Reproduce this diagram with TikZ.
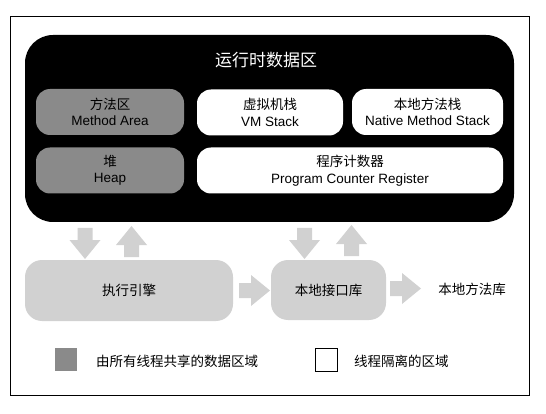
\documentclass[tikz,border=0pt]{standalone}
\usepackage{fontspec}
\setmainfont{Liberation Sans}
\newfontfamily\cjk{Noto Sans CJK SC}
\definecolor{sharedgray}{HTML}{8A8A8A}
\definecolor{lightgray2}{HTML}{D1D1D1}
\begin{document}
\begin{tikzpicture}[x=1pt,y=-1pt,
  every node/.style={inner sep=0pt, outer sep=0pt},
  txt/.style={font=\fontsize{13.5}{16.5}\selectfont, align=center, text=black},
  area/.style={txt, rounded corners=14pt, minimum height=46pt},
  sharedbox/.style={area, fill=sharedgray},
  threadbox/.style={area, fill=white},
  execbox/.style={txt, fill=lightgray2, rounded corners=17pt},
  fatarrow/.pic={\fill[lightgray2] (0,-7.5) -- (12,-7.5) -- (12,-15.5) -- (31,0) -- (12,15.5) -- (12,7.5) -- (0,7.5) -- cycle;}
]
\useasboundingbox (0,0) rectangle (546,414);
\fill[white] (0,0) rectangle (546,414);
% outer frame
\node[draw=black, line width=0.9pt, minimum width=519pt, minimum height=379pt] (frame) at (269.5,205.5) {};
% runtime data area
\node[fill=black, rounded corners=28pt, minimum width=489pt, minimum height=187pt] (rt) at (269.5,128.5) {};
\node[font=\fontsize{17}{20}\selectfont\cjk, text=white] (title) at (266,60) {运行时数据区};
\node[sharedbox, minimum width=148pt] (ma) at (110,112) {{\cjk 方法区}\\Method Area};
\node[threadbox, minimum width=146pt] (vm) at (270,112.5) {{\cjk 虚拟机栈}\\VM Stack};
\node[threadbox, minimum width=151pt] (ns) at (427.5,112) {{\cjk 本地方法栈}\\Native Method Stack};
\node[sharedbox, minimum width=148pt] (heap) at (110,170.5) {{\cjk 堆}\\Heap};
\node[threadbox, minimum width=306pt] (pc) at (350,170.5) {{\cjk 程序计数器}\\Program Counter Register};
% execution engine and native interface
\node[execbox, minimum width=208pt, minimum height=61pt] (engine) at (129,290.5) {\cjk 执行引擎};
\node[execbox, minimum width=115pt, minimum height=60pt] (nif) at (328.5,290) {\cjk 本地接口库};
\node[txt] (nlib) at (472,289) {\cjk 本地方法库};
% fat arrows
\pic[rotate=-90] at (85,228) {fatarrow};
\pic[rotate=90] at (131.5,257) {fatarrow};
\pic[rotate=-90] at (304.5,228) {fatarrow};
\pic[rotate=90] at (351.5,256) {fatarrow};
\pic at (239,290.5) {fatarrow};
\pic at (390,288.5) {fatarrow};
% legend
\node[fill=sharedgray, minimum width=22pt, minimum height=23pt] (lgshared) at (66,359.5) {};
\node[txt, anchor=west] (lgsharedtxt) at (96,361) {\cjk 由所有线程共享的数据区域};
\node[draw=black, line width=0.9pt, fill=white, minimum width=22pt, minimum height=23pt] (lgthread) at (326,359.5) {};
\node[txt, anchor=west] (lgthreadtxt) at (354,361) {\cjk 线程隔离的区域};
\end{tikzpicture}
\end{document}
